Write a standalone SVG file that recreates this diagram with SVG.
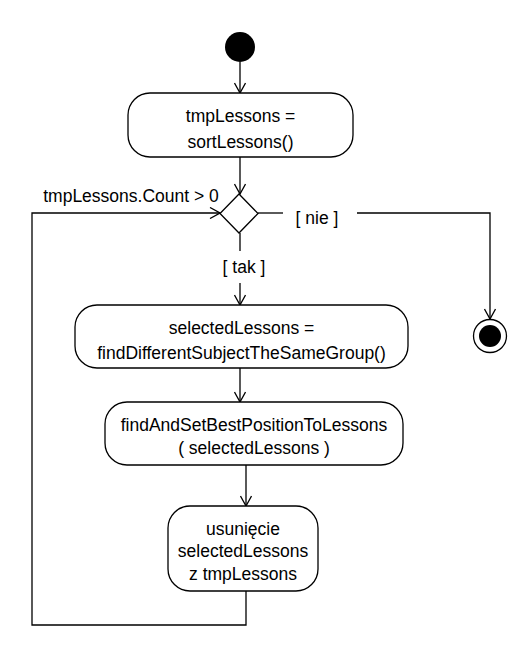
<svg xmlns="http://www.w3.org/2000/svg" width="530" height="652" viewBox="0 0 530 652">
<defs>
<marker id="arr" viewBox="0 0 12 12" refX="11" refY="6" markerWidth="12" markerHeight="12" markerUnits="userSpaceOnUse" orient="auto">
<path d="M1,0.5 L11,6 L1,11.5" fill="none" stroke="#000" stroke-width="1.3"/>
</marker>
</defs>
<style>
.n{fill:#fff;stroke:#000;stroke-width:1.3}
.t{font-family:"Liberation Sans",Arial,sans-serif;font-size:17.5px;fill:#000;text-anchor:middle}
.l{fill:none;stroke:#000;stroke-width:1.3}
</style>
<rect width="530" height="652" fill="#fff"/>
<g id="connectors">
<line class="l" x1="240" y1="62" x2="240" y2="93" marker-end="url(#arr)"/>
<line class="l" x1="240" y1="157" x2="240" y2="194" marker-end="url(#arr)"/>
<line class="l" x1="240" y1="233" x2="240" y2="251"/>
<line class="l" x1="240" y1="283" x2="240" y2="305" marker-end="url(#arr)"/>
<line class="l" x1="258" y1="213" x2="283" y2="213"/>
<polyline class="l" points="357,213 490,213 490,319" marker-end="url(#arr)"/>
<line class="l" x1="240" y1="368" x2="240" y2="402" marker-end="url(#arr)"/>
<line class="l" x1="246" y1="465" x2="246" y2="506" marker-end="url(#arr)"/>
<polyline class="l" points="246,591 246,625 32,625 32,213 220,213" marker-end="url(#arr)"/>
<text class="t" x="131" y="202">tmpLessons.Count &gt; 0</text>
<text class="t" x="317" y="224">[ nie ]</text>
<text class="t" x="244" y="273">[ tak ]</text>
</g>
<g id="start"><circle cx="240" cy="47" r="15" fill="#000"/></g>
<g id="sort">
<rect class="n" x="128" y="93" width="225" height="64" rx="22"/>
<text class="t" x="240.5" y="122">tmpLessons =</text>
<text class="t" x="240.5" y="148">sortLessons()</text>
</g>
<g id="decision"><polygon class="n" points="239,194 258,213.5 239,233 220,213.5"/></g>
<g id="end">
<circle cx="490" cy="336" r="16.5" fill="#fff" stroke="#000" stroke-width="1.3"/>
<circle cx="490" cy="336" r="11" fill="#000"/>
</g>
<g id="select">
<rect class="n" x="75" y="305" width="333" height="63" rx="22"/>
<text class="t" x="241.5" y="334">selectedLessons =</text>
<text class="t" x="241.5" y="359">findDifferentSubjectTheSameGroup()</text>
</g>
<g id="position">
<rect class="n" x="105" y="402" width="298" height="63" rx="22"/>
<text class="t" x="254" y="431">findAndSetBestPositionToLessons</text>
<text class="t" x="254" y="454">( selectedLessons )</text>
</g>
<g id="remove">
<rect class="n" x="168" y="506" width="150" height="85" rx="22"/>
<text class="t" x="243" y="535">usunięcie</text>
<text class="t" x="243" y="557">selectedLessons</text>
<text class="t" x="243" y="580">z tmpLessons</text>
</g>
</svg>
